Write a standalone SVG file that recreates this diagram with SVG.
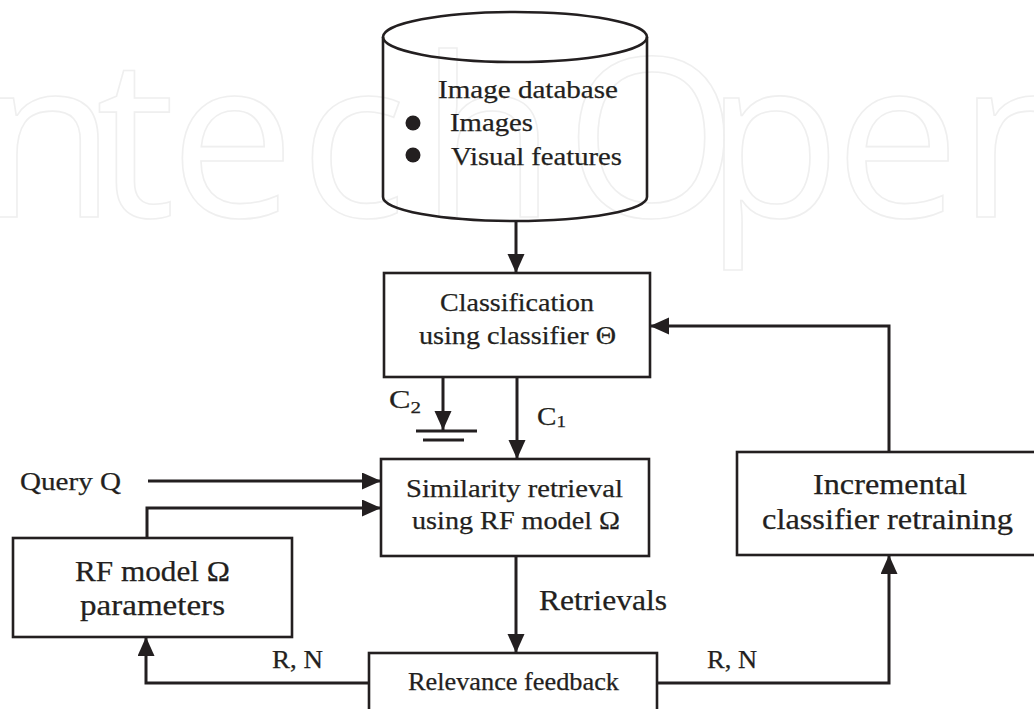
<svg xmlns="http://www.w3.org/2000/svg" width="1034" height="709" viewBox="0 0 1034 709">
<style>
  .box { fill: none; stroke: #231f20; stroke-width: 2.6; }
  .ln { fill: none; stroke: #231f20; stroke-width: 3; }
  .t { font-family: "Liberation Serif", "Times New Roman", serif; fill: #231f20; font-size: 26px; stroke: #231f20; stroke-width: 0.25; }
  .big { font-size: 29px; }
  .wm { font-family: "Open Sans", Lato, sans-serif; font-size: 222px; fill: none; stroke: #efefef; stroke-width: 1.6; }
</style>
<defs>
  <marker id="arr" markerUnits="userSpaceOnUse" markerWidth="20" markerHeight="18" refX="19" refY="8.5" orient="auto">
    <path d="M0,0 L19,8.5 L0,17 z" fill="#231f20"/>
  </marker>
</defs>
<rect width="1034" height="709" fill="#ffffff"/>
<g id="watermark">
  <text class="wm" x="-20 96 170 300 420 565 705 835 958" y="217">ntechOpen</text>
</g>
<g id="database">
  <ellipse cx="515" cy="37" rx="132" ry="25" class="box"/>
  <path class="box" d="M383,37 L383,197 A132,24 0 0 0 647,197 L647,37"/>
  <text class="t" x="438" y="98" textLength="180" lengthAdjust="spacingAndGlyphs">Image database</text>
  <circle cx="413" cy="123" r="7.5" fill="#231f20"/>
  <text class="t" x="450" y="131" textLength="83" lengthAdjust="spacingAndGlyphs">Images</text>
  <circle cx="413" cy="155" r="7.5" fill="#231f20"/>
  <text class="t" x="451" y="165" textLength="171" lengthAdjust="spacingAndGlyphs">Visual features</text>
</g>
<g id="classification">
  <rect class="box" x="384" y="273" width="266" height="104"/>
  <text class="t" x="440" y="311" textLength="154" lengthAdjust="spacingAndGlyphs">Classification</text>
  <text class="t" x="419" y="344" textLength="197" lengthAdjust="spacingAndGlyphs">using classifier Θ</text>
</g>
<g id="similarity">
  <rect class="box" x="381" y="459" width="268" height="97"/>
  <text class="t" x="406" y="497" textLength="217" lengthAdjust="spacingAndGlyphs">Similarity retrieval</text>
  <text class="t" x="412" y="529" textLength="208" lengthAdjust="spacingAndGlyphs">using RF model Ω</text>
</g>
<g id="rfmodel">
  <rect class="box" x="13" y="538" width="279" height="99"/>
  <text class="t big" x="75" y="581" textLength="155" lengthAdjust="spacingAndGlyphs">RF model Ω</text>
  <text class="t big" x="80" y="615" textLength="145" lengthAdjust="spacingAndGlyphs">parameters</text>
</g>
<g id="relevance">
  <rect class="box" x="369" y="653" width="288" height="70"/>
  <text class="t" style="font-size:24.5px" x="408" y="690" textLength="211" lengthAdjust="spacingAndGlyphs">Relevance feedback</text>
</g>
<g id="incremental">
  <rect class="box" x="737" y="452" width="310" height="103"/>
  <text class="t big" x="813" y="494" textLength="154" lengthAdjust="spacingAndGlyphs">Incremental</text>
  <text class="t big" x="762" y="529" textLength="251" lengthAdjust="spacingAndGlyphs">classifier retraining</text>
</g>
<g id="query">
  <text class="t" x="20" y="490" textLength="101" lengthAdjust="spacingAndGlyphs">Query Q</text>
</g>
<g id="ground">
  <line class="ln" x1="416" y1="431" x2="477" y2="431"/>
  <line class="ln" x1="423" y1="440" x2="464" y2="440"/>
</g>
<g id="connectors">
  <path class="ln" d="M516,221 L516,273" marker-end="url(#arr)"/>
  <path class="ln" d="M889,452 L889,326 L650,326" marker-end="url(#arr)"/>
  <path class="ln" d="M443,377 L443,430" marker-end="url(#arr)"/>
  <path class="ln" d="M517,377 L517,459" marker-end="url(#arr)"/>
  <path class="ln" d="M148,481 L381,481" marker-end="url(#arr)"/>
  <path class="ln" d="M147,538 L147,508 L381,508" marker-end="url(#arr)"/>
  <path class="ln" d="M516,556 L516,653" marker-end="url(#arr)"/>
  <path class="ln" d="M369,683 L146,683 L146,637" marker-end="url(#arr)"/>
  <path class="ln" d="M657,683 L889,683 L889,555" marker-end="url(#arr)"/>
  <text class="t" x="389" y="408" textLength="32" lengthAdjust="spacingAndGlyphs">C<tspan style="font-size:17px" dy="5">2</tspan></text>
  <text class="t" x="537" y="425" textLength="29" lengthAdjust="spacingAndGlyphs">C<tspan style="font-size:17px" dy="2">1</tspan></text>
  <text class="t" x="539" y="610" style="font-size:29px" textLength="128" lengthAdjust="spacingAndGlyphs">Retrievals</text>
  <text class="t" x="272" y="668" style="font-size:24.5px" textLength="51" lengthAdjust="spacingAndGlyphs">R, N</text>
  <text class="t" x="707" y="668" style="font-size:24.5px" textLength="50" lengthAdjust="spacingAndGlyphs">R, N</text>
</g>
</svg>
